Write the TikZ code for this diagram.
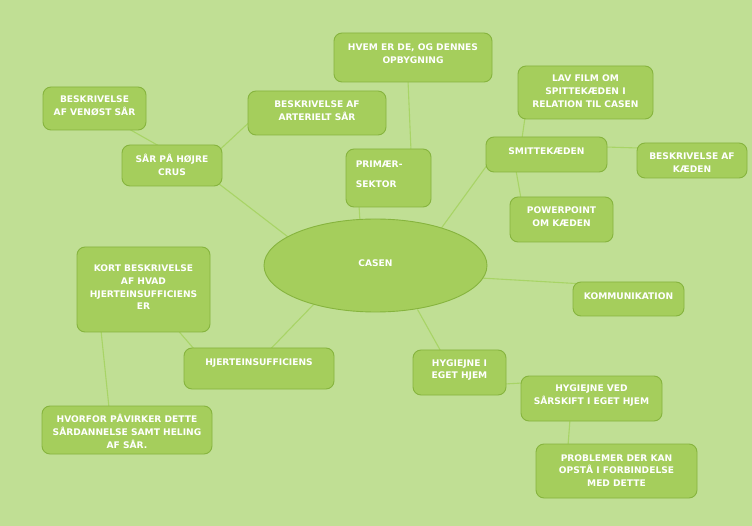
\documentclass[tikz,border=0pt]{standalone}
\usepackage{fontspec}
\setmainfont{DejaVu Sans}
\usetikzlibrary{calc,backgrounds,shapes.geometric}
\definecolor{bg}{RGB}{192,223,148}
\definecolor{nfill}{RGB}{165,206,92}
\definecolor{nbord}{RGB}{134,180,62}
\definecolor{lnk}{RGB}{168,212,102}
\tikzset{
  box/.style={draw=nbord, fill=nfill, rounded corners=8pt, line width=0.9pt, inner sep=0pt},
  oval/.style={draw=nbord, fill=nfill, ellipse, line width=0.9pt, inner sep=0pt},
  txt/.style={text=white, font=\bfseries\fontsize{9.1}{12.7}\selectfont, align=center, inner sep=0pt},
  link/.style={draw=lnk, line width=1.1pt},
}
\begin{document}
\begin{tikzpicture}[x=1pt,y=-1pt]
\useasboundingbox (0,0) rectangle (752,526);
% boxes
\node[box, minimum width=158pt, minimum height=49pt] (hvem) at (413,57.5) {};
\node[box, minimum width=103pt, minimum height=43pt] (venost) at (94.5,108.5) {};
\node[box, minimum width=138pt, minimum height=44pt] (arter) at (317,113) {};
\node[box, minimum width=100pt, minimum height=41pt] (sar) at (172,165.5) {};
\node[box, minimum width=85pt, minimum height=58pt] (prim) at (388.5,178) {};
\node[box, minimum width=135pt, minimum height=53pt] (film) at (585.5,92.5) {};
\node[box, minimum width=121pt, minimum height=35pt] (smitte) at (546.5,154.5) {};
\node[box, minimum width=110pt, minimum height=35pt] (kaeden) at (692,160.5) {};
\node[box, minimum width=103pt, minimum height=45pt] (power) at (561.5,219.5) {};
\node[oval, minimum width=223pt, minimum height=93pt] (casen) at (375.5,265.5) {};
\node[box, minimum width=111pt, minimum height=34pt] (komm) at (628.5,299) {};
\node[box, minimum width=133pt, minimum height=85pt] (kort) at (143.5,289.5) {};
\node[box, minimum width=150pt, minimum height=41pt] (hjerte) at (259,368.5) {};
\node[box, minimum width=170pt, minimum height=48pt] (hvorfor) at (127,430) {};
\node[box, minimum width=93pt, minimum height=45pt] (hyg1) at (459.5,372.5) {};
\node[box, minimum width=141pt, minimum height=45pt] (hyg2) at (591.5,398.5) {};
\node[box, minimum width=161pt, minimum height=54pt] (probl) at (616.5,471) {};
% texts
\node[txt] (hvem-t) at ($(hvem.center)+(0,-4)$) {HVEM ER DE, OG DENNES\\OPBYGNING};
\node[txt] (venost-t) at ($(venost.center)+(0,-2.5)$) {BESKRIVELSE\\AF VENØST SÅR};
\node[txt] (arter-t) at ($(arter.center)+(0,-2.5)$) {BESKRIVELSE AF\\ARTERIELT SÅR};
\node[txt] (sar-t) at ($(sar.center)+(0,-1)$) {SÅR PÅ HØJRE\\CRUS};
\node[txt, align=left, anchor=west, font=\bfseries\fontsize{9.1}{20}\selectfont] (prim-t) at ($(prim.west)+(10,-4)$) {PRIMÆR-\\SEKTOR};
\node[txt] (film-t) at ($(film.center)+(0,-1.5)$) {LAV FILM OM\\SPITTEKÆDEN I\\RELATION TIL CASEN};
\node[txt] (smitte-t) at ($(smitte.center)+(0,-3.5)$) {SMITTEKÆDEN};
\node[txt] (kaeden-t) at ($(kaeden.center)+(0,2)$) {BESKRIVELSE AF\\KÆDEN};
\node[txt] (power-t) at ($(power.center)+(0,-3)$) {POWERPOINT\\OM KÆDEN};
\node[txt] (casen-t) at ($(casen.center)+(0,-2.8)$) {CASEN};
\node[txt] (komm-t) at ($(komm.center)+(0,-3)$) {KOMMUNIKATION};
\node[txt] (kort-t) at ($(kort.center)+(0,-2)$) {KORT BESKRIVELSE\\AF HVAD\\HJERTEINSUFFICIENS\\ER};
\node[txt] (hjerte-t) at ($(hjerte.center)+(0,-5)$) {HJERTEINSUFFICIENS};
\node[txt] (hvorfor-t) at ($(hvorfor.center)+(0,1.5)$) {HVORFOR PÅVIRKER DETTE\\SÅRDANNELSE SAMT HELING\\AF SÅR.};
\node[txt] (hyg1-t) at ($(hyg1.center)+(0,-2.5)$) {HYGIEJNE I\\EGET HJEM};
\node[txt] (hyg2-t) at ($(hyg2.center)+(0,-3)$) {HYGIEJNE VED\\SÅRSKIFT I EGET HJEM};
\node[txt] (probl-t) at ($(probl.center)+(0,-0.5)$) {PROBLEMER DER KAN\\OPSTÅ I FORBINDELSE\\MED DETTE};
% background and connectors
\begin{scope}[on background layer]
\fill[bg] (0,0) rectangle (752,526);
\draw[link] ($(hvem.south)+(-5,-2)$) -- ($(prim.north)+(22.5,2)$);
\draw[link] ($(venost.south)+(33.5,-2)$) -- ($(sar.north)+(-12,2)$);
\draw[link] ($(arter.west)+(2,9)$) -- ($(sar.east)+(-3,-15.5)$);
\draw[link] ($(sar.south east)+(-4,-3)$) -- ($(casen.center)+(-83.5,-25.5)$);
\draw[link] ($(prim.south)+(-29.5,-2)$) -- ($(casen.north)+(-15.5,3)$);
\draw[link] ($(smitte.west)+(2,10)$) -- ($(casen.center)+(64.5,-35.5)$);
\draw[link] ($(film.south)+(-60.5,-2)$) -- ($(smitte.north)+(-24.5,2)$);
\draw[link] ($(smitte.east)+(-2,-7.5)$) -- ($(kaeden.west)+(2,-12.5)$);
\draw[link] ($(smitte.south)+(-30.5,-2)$) -- ($(power.north)+(-40.5,2)$);
\draw[link] ($(casen.center)+(105,12.5)$) -- ($(komm.north west)+(4,2)$);
\draw[link] ($(casen.center)+(-61,38)$) -- ($(hjerte.north)+(11,2)$);
\draw[link] ($(kort.south)+(34.5,-2)$) -- ($(hjerte.north west)+(11,2)$);
\draw[link] ($(kort.south)+(-42.5,-2)$) -- ($(hvorfor.north)+(-18,2)$);
\draw[link] ($(casen.center)+(42,44)$) -- ($(hyg1.north)+(-18.5,2)$);
\draw[link] ($(hyg1.east)+(-2,11.5)$) -- ($(hyg2.west)+(2,-15.5)$);
\draw[link] ($(hyg2.south)+(-21.5,-2)$) -- ($(probl.north)+(-48.5,2)$);
\end{scope}
\end{tikzpicture}
\end{document}
